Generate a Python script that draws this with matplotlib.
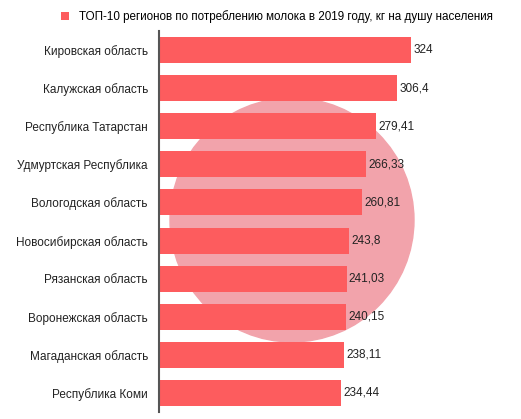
import matplotlib.pyplot as plt
import matplotlib.patches as mpatches
import numpy as np

plt.rcParams['font.family'] = ['Liberation Sans', 'DejaVu Sans']

regions = ["Кировская область",
           "Калужская область",
           "Республика Татарстан",
           "Удмуртская Республика",
           "Вологодская область",
           "Новосибирская область",
           "Рязанская область",
           "Воронежская область",
           "Магаданская область",
           "Республика Коми"]
values = [324, 306.4, 279.41, 266.33, 260.81, 243.8, 241.03, 240.15, 238.11, 234.44]
value_labels = ["324", "306,4", "279,41", "266,33", "260,81",
                "243,8", "241,03", "240,15", "238,11", "234,44"]
legend_label = "ТОП-10 регионов по потреблению молока в 2019 году, кг на душу населения"

bar_color = "#fd5c5e"

fig = plt.figure(figsize=(5.21, 4.19), dpi=100)

ax = fig.add_axes([159 / 521, 1 - 412 / 419, 358 / 521, 381 / 419])

# faint logo-like watermark behind the bars
ax.add_patch(mpatches.Ellipse((292 / 521, 1 - 220 / 419), 244 / 521, 244 / 419,
                              transform=fig.transFigure, color="#f2a3ab",
                              zorder=0, clip_on=False))

y = np.arange(len(regions))
bars = ax.barh(y, values, height=0.68, color=bar_color, label=legend_label, zorder=2)

for i in range(len(regions)):
    ax.text(values[i] + 3, y[i], value_labels[i], ha="left", va="center",
            fontsize=8.5, color="#222222", zorder=3)

ax.set_ylim(9.5, -0.5)
ax.set_xlim(0, 460)
ax.set_yticks(y, labels=regions)
ax.tick_params(axis="y", length=0, pad=8, labelsize=8.5, labelcolor="#222222")
ax.set_xticks([])
for s in ["top", "right", "bottom"]:
    ax.spines[s].set_visible(False)
ax.spines["left"].set_color("#555555")
ax.spines["left"].set_linewidth(1.5)

fig.legend(handles=[bars], labels=[legend_label], loc="upper center",
           bbox_to_anchor=(277 / 521, 1.0), frameon=False, fontsize=8.4,
           handlelength=0.7, handleheight=0.7, handletextpad=0.8)

fig.savefig("out.png", dpi=100)
